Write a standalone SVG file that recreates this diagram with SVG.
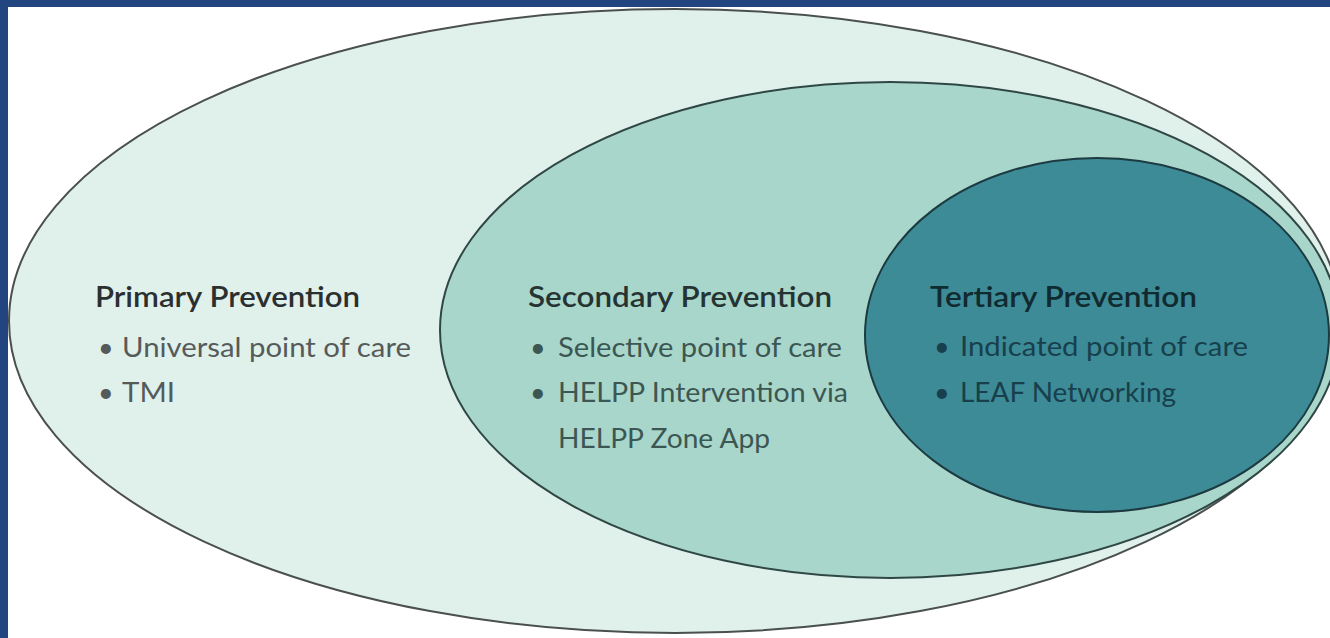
<svg xmlns="http://www.w3.org/2000/svg" width="1330" height="638" viewBox="0 0 1330 638">
<style>
.h{font-family:Lato,"Open Sans",sans-serif;font-size:28px;font-weight:600}
.b{font-family:Lato,"Open Sans",sans-serif;font-size:27px}
</style>
<rect x="0" y="0" width="1330" height="638" fill="#ffffff"/>
<g id="primary">
<ellipse cx="675" cy="321" rx="666" ry="312" fill="#e0f0eb" stroke="#4a4f4f" stroke-width="2"/>
<text class="h" x="95" y="307" fill="#2b2f2f" textLength="265" lengthAdjust="spacingAndGlyphs">Primary Prevention</text>
<text class="b" x="98" y="357" fill="#555b5b">•</text>
<text class="b" x="122" y="357" fill="#555b5b" textLength="289" lengthAdjust="spacingAndGlyphs">Universal point of care</text>
<text class="b" x="98" y="402" fill="#555b5b">•</text>
<text class="b" x="122" y="402" fill="#555b5b" textLength="53" lengthAdjust="spacingAndGlyphs">TMI</text>
</g>
<g id="secondary">
<ellipse cx="890" cy="330" rx="450" ry="248" fill="#a9d6ca" stroke="#2f4744" stroke-width="2"/>
<text class="h" x="528" y="307" fill="#263333" textLength="304" lengthAdjust="spacingAndGlyphs">Secondary Prevention</text>
<text class="b" x="530" y="357" fill="#3c5753">•</text>
<text class="b" x="558" y="357" fill="#3c5753" textLength="284" lengthAdjust="spacingAndGlyphs">Selective point of care</text>
<text class="b" x="530" y="402" fill="#3c5753">•</text>
<text class="b" x="558" y="402" fill="#3c5753" textLength="290" lengthAdjust="spacingAndGlyphs">HELPP Intervention via</text>
<text class="b" x="558" y="448" fill="#3c5753" textLength="212" lengthAdjust="spacingAndGlyphs">HELPP Zone App</text>
</g>
<g id="tertiary">
<ellipse cx="1097" cy="335" rx="232" ry="177" fill="#3d8b96" stroke="#1c3a40" stroke-width="2"/>
<text class="h" x="930" y="307" fill="#112a30" textLength="267" lengthAdjust="spacingAndGlyphs">Tertiary Prevention</text>
<text class="b" x="934" y="356" fill="#173f4c">•</text>
<text class="b" x="960" y="356" fill="#173f4c" textLength="288" lengthAdjust="spacingAndGlyphs">Indicated point of care</text>
<text class="b" x="934" y="402" fill="#173f4c">•</text>
<text class="b" x="960" y="402" fill="#173f4c" textLength="216" lengthAdjust="spacingAndGlyphs">LEAF Networking</text>
</g>
<g id="connectors"/>
<rect x="0" y="0" width="1330" height="7" fill="#22457f"/>
<rect x="0" y="0" width="8" height="638" fill="#22457f"/>
</svg>
